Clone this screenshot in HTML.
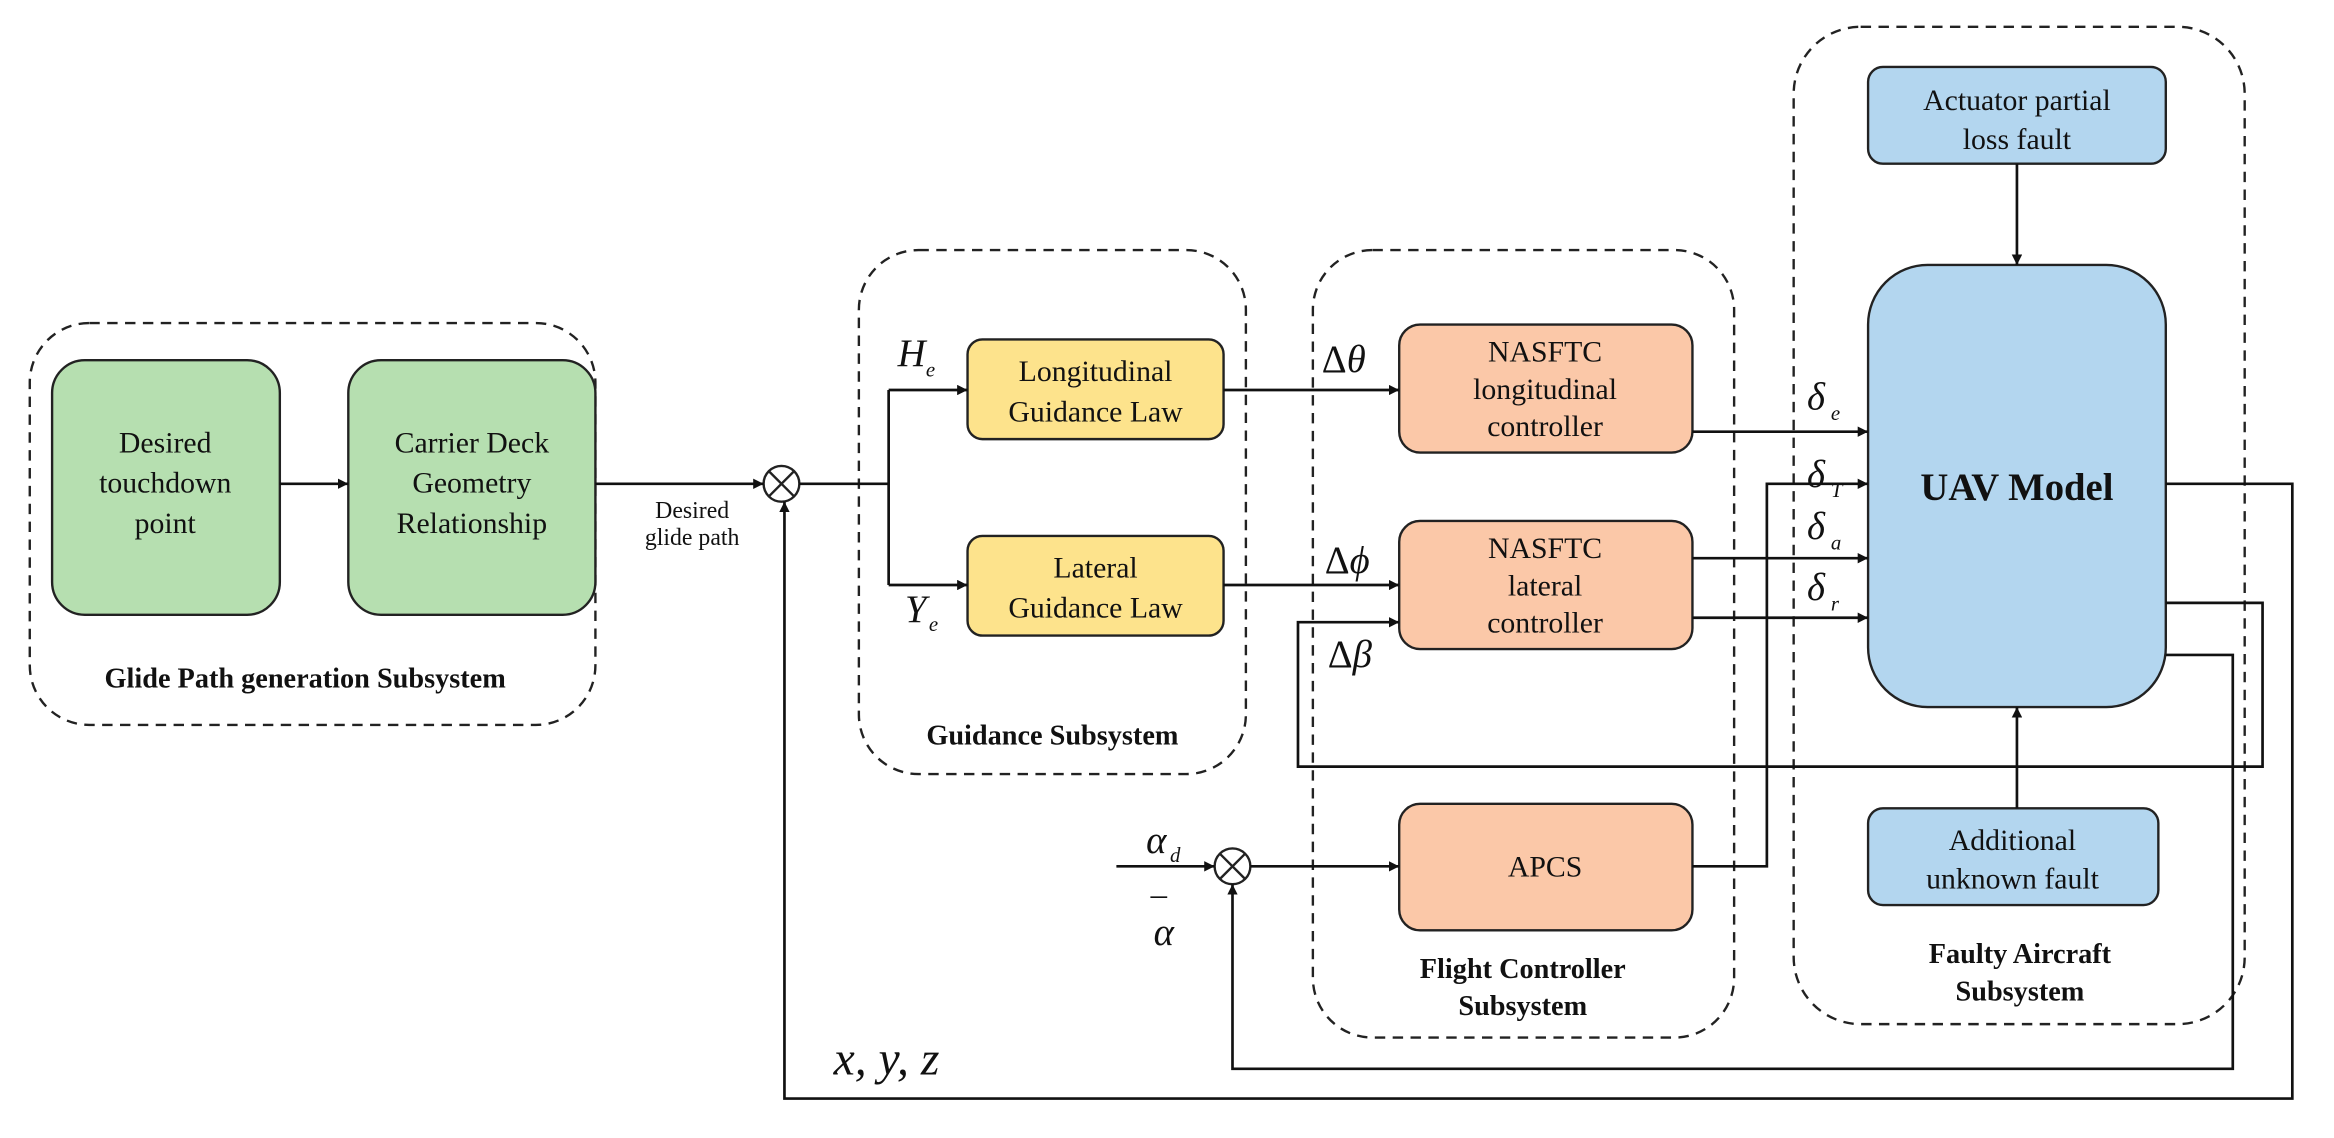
<!DOCTYPE html>
<html><head><meta charset="utf-8"><style>
html,body{margin:0;padding:0;background:#fff;}
svg{display:block;}
text{font-family:"Liberation Serif",serif;fill:#111;}
</style></head><body>
<svg width="2334" height="1138" viewBox="0 0 1568 764.5" preserveAspectRatio="none" xmlns="http://www.w3.org/2000/svg">
<defs>
<marker id="a" viewBox="0 0 10 10" refX="10" refY="5" markerWidth="7" markerHeight="7" orient="auto" markerUnits="userSpaceOnUse"><path d="M0,0 L10,5 L0,10 z" fill="#111"/></marker>
</defs>
<g fill="none" stroke="#222" stroke-width="1.6" stroke-dasharray="7,5">
<rect x="20" y="217" width="380" height="270" rx="40"/>
<rect x="577" y="168" width="260" height="352" rx="40"/>
<rect x="882" y="168" width="283" height="529" rx="40"/>
<rect x="1205" y="18" width="303" height="670" rx="45"/>
</g>
<g stroke="#222" stroke-width="1.6">
<rect x="35" y="242" width="153" height="171" rx="22" fill="#b6dfb0"/>
<rect x="234" y="242" width="166" height="171" rx="22" fill="#b6dfb0"/>
<rect x="650" y="228" width="172" height="67" rx="10" fill="#fde38c"/>
<rect x="650" y="360" width="172" height="67" rx="10" fill="#fde38c"/>
<rect x="940" y="218" width="197" height="86" rx="14" fill="#fbc8a8"/>
<rect x="940" y="350" width="197" height="86" rx="14" fill="#fbc8a8"/>
<rect x="940" y="540" width="197" height="85" rx="14" fill="#fbc8a8"/>
<rect x="1255" y="45" width="200" height="65" rx="10" fill="#b3d6ef"/>
<rect x="1255" y="178" width="200" height="297" rx="40" fill="#b3d6ef"/>
<rect x="1255" y="543" width="195" height="65" rx="10" fill="#b3d6ef"/>
<circle cx="525" cy="325" r="12" fill="#fff"/>
<path d="M516.5,316.5 L533.5,333.5 M533.5,316.5 L516.5,333.5" fill="none"/>
<circle cx="828" cy="582" r="12" fill="#fff"/>
<path d="M819.5,573.5 L836.5,590.5 M836.5,573.5 L819.5,590.5" fill="none"/>
</g>
<g fill="none" stroke="#111" stroke-width="1.8">
<path d="M188,325 H234" marker-end="url(#a)"/>
<path d="M400,325 H513" marker-end="url(#a)"/>
<path d="M537,325 H597 M597,262 V393"/>
<path d="M597,262 H650" marker-end="url(#a)"/>
<path d="M597,393 H650" marker-end="url(#a)"/>
<path d="M822,262 H940" marker-end="url(#a)"/>
<path d="M822,393 H940" marker-end="url(#a)"/>
<path d="M1455,405 H1520 V515 H872 V418 H940" marker-end="url(#a)"/>
<path d="M1137,290 H1255" marker-end="url(#a)"/>
<path d="M1137,582 H1187 V325 H1255" marker-end="url(#a)"/>
<path d="M1137,375 H1255" marker-end="url(#a)"/>
<path d="M1137,415 H1255" marker-end="url(#a)"/>
<path d="M1355,110 V178" marker-end="url(#a)"/>
<path d="M1355,543 V475" marker-end="url(#a)"/>
<path d="M1455,325 H1540 V738 H527 V337" marker-end="url(#a)"/>
<path d="M1455,440 H1500 V718 H828 V594" marker-end="url(#a)"/>
<path d="M750,582 H816" marker-end="url(#a)"/>
<path d="M840,582 H940" marker-end="url(#a)"/>
</g>
<g font-size="20" text-anchor="middle">
<text x="111" y="304">Desired</text><text x="111" y="331">touchdown</text><text x="111" y="358">point</text>
<text x="317" y="304">Carrier Deck</text><text x="317" y="331">Geometry</text><text x="317" y="358">Relationship</text>
<text x="736" y="256">Longitudinal</text><text x="736" y="283">Guidance Law</text>
<text x="736" y="388">Lateral</text><text x="736" y="415">Guidance Law</text>
<text x="1038" y="243">NASFTC</text><text x="1038" y="268">longitudinal</text><text x="1038" y="293">controller</text>
<text x="1038" y="375">NASFTC</text><text x="1038" y="400">lateral</text><text x="1038" y="425">controller</text>
<text x="1038" y="589">APCS</text>
<text x="1355" y="74">Actuator partial</text><text x="1355" y="100">loss fault</text>
<text x="1352" y="571">Additional</text><text x="1352" y="597">unknown fault</text>
</g>
<g font-size="16" text-anchor="middle">
<text x="465" y="348">Desired</text><text x="465" y="366">glide path</text>
</g>
<g font-size="19" font-weight="bold" text-anchor="middle">
<text x="205" y="462">Glide Path generation Subsystem</text>
<text x="707" y="500">Guidance Subsystem</text>
<text x="1023" y="657">Flight Controller</text><text x="1023" y="682">Subsystem</text>
<text x="1357" y="647">Faulty Aircraft</text><text x="1357" y="672">Subsystem</text>
</g>
<text x="1355" y="336" font-size="26" font-weight="bold" text-anchor="middle">UAV Model</text>
<g font-style="italic" font-size="26">
<text x="603" y="246">H</text><text x="622" y="253" font-size="14">e</text>
<text x="608" y="418">Y</text><text x="624" y="424" font-size="14">e</text>
<text x="1214" y="275">δ</text><text x="1230" y="282" font-size="14">e</text>
<text x="1214" y="327">δ</text><text x="1230" y="334" font-size="14">T</text>
<text x="1214" y="362">δ</text><text x="1230" y="369" font-size="14">a</text>
<text x="1214" y="403">δ</text><text x="1230" y="410" font-size="14">r</text>
<text x="770" y="573">α</text><text x="786" y="579" font-size="14">d</text>
<text x="775" y="635">α</text>
<text x="560" y="722" font-size="32">x, y, z</text>
</g>
<text x="773" y="608" font-size="22">–</text>
<g font-size="26">
<text x="888" y="250">Δ<tspan font-style="italic">θ</tspan></text>
<text x="890" y="385">Δ<tspan font-style="italic">ϕ</tspan></text>
<text x="892" y="448">Δ<tspan font-style="italic">β</tspan></text>
</g>
</svg>
</body></html>
